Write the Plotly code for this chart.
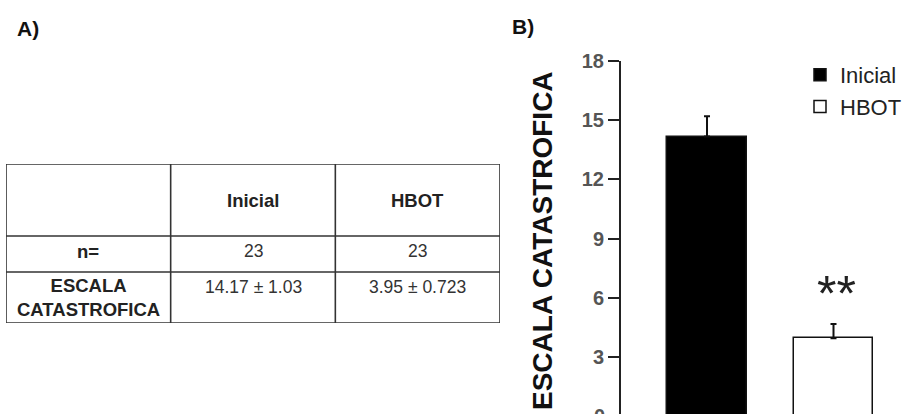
import plotly.graph_objects as go

# Summary values
groups = ["Inicial", "HBOT"]
n_values = [23, 23]
means = [14.17, 3.95]
sems = [1.03, 0.723]
bar_colors = ["#000000", "#ffffff"]
y_ticks = [3, 6, 9, 12, 15, 18]
row_labels = ["n=", "ESCALA<br>CATASTROFICA"]

W, H = 918, 414
FONT = "Liberation Sans, Arial, sans-serif"
GRID = "#333333"

# Y axis: 18 sits 61 px below the top, zero sits just under the bottom edge
Y_TOP_PX, Y_ZERO_PX = 61, 416.2
Y_MAX = 18
PX_PER_UNIT = (Y_ZERO_PX - Y_TOP_PX) / Y_MAX
Y_MIN = (Y_ZERO_PX - H) / PX_PER_UNIT

fig = go.Figure()

# Panel B: bar chart with upward error bars
for g, m, s, c in zip(groups, means, sems, bar_colors):
    fig.add_trace(go.Bar(
        x=[g], y=[m], name=g,
        width=0.63,
        marker=dict(color=c, line=dict(color="#111111", width=1.5)),
        error_y=dict(type="data", symmetric=False, array=[s], arrayminus=[0],
                     color="#111111", thickness=2, width=3),
        xaxis="x", yaxis="y",
    ))

# Panel A: summary table laid out on its own hidden axes
# (columns are one unit wide; rows use edge offsets measured down from the top)
col_edges = [0, 1, 2, 3]
row_edges = [0, 72, 108, 159]
text_offset = 15  # distance from a row's top edge to the text centre

shapes = []
for xe in col_edges:
    shapes.append(dict(type="line", xref="x2", yref="y2", x0=xe, x1=xe,
                       y0=row_edges[0], y1=row_edges[-1],
                       line=dict(color=GRID, width=1.6)))
for ye in row_edges:
    shapes.append(dict(type="line", xref="x2", yref="y2", x0=col_edges[0],
                       x1=col_edges[-1], y0=ye, y1=ye,
                       line=dict(color=GRID, width=1.6)))

annotations = []


def cell_text(col, y, text, bold=False, color="#333333", size=17.5):
    annotations.append(dict(
        x=col + 0.5, y=y, xref="x2", yref="y2", xanchor="center", yanchor="middle",
        text=f"<b>{text}</b>" if bold else text, showarrow=False, align="center",
        font=dict(family=FONT, size=size, color=color)))


# Header row
for i, g in enumerate(groups):
    cell_text(i + 1, (row_edges[0] + row_edges[1]) / 2, g, bold=True,
              color="#222222", size=18.5)
# n= row
cell_text(0, row_edges[1] + text_offset, row_labels[0], bold=True,
          color="#222222", size=18.5)
for i, n in enumerate(n_values):
    cell_text(i + 1, row_edges[1] + text_offset, str(n))
# Mean ± SEM row
cell_text(0, row_edges[2] + 25, row_labels[1], bold=True, color="#222222", size=18.5)
for i, (m, s) in enumerate(zip(means, sems)):
    cell_text(i + 1, row_edges[2] + text_offset, f"{m:.2f} ± {s:g}")

# Zero tick label, mostly below the bottom edge (paper coords so it is not hidden)
annotations.append(dict(x=621 / W, xref="paper", xanchor="right", xshift=-14,
                        y=(H - Y_ZERO_PX) / H, yref="paper", yanchor="middle",
                        showarrow=False, text="0",
                        font=dict(family=FONT, size=20, color="#555555", weight="bold")))

# Y-axis title
annotations.append(dict(x=542 / W, y=1 - 241 / H, xref="paper", yref="paper",
                        xanchor="center", yanchor="middle",
                        text="<b>ESCALA CATASTROFICA</b>", textangle=-90, showarrow=False,
                        font=dict(family=FONT, size=28, color="#111111")))

# Significance marker above the HBOT bar
annotations.append(dict(x="HBOT", y=means[1] + sems[1], xref="x", yref="y",
                        yanchor="middle", yshift=30, xshift=3, text="**", showarrow=False,
                        font=dict(family=FONT, size=50, color="#222222")))

# Panel letters
annotations.append(dict(x=15 / W, y=1 - 29 / H, xref="paper", yref="paper",
                        xanchor="left", yanchor="middle",
                        text="<b>A)</b>", showarrow=False,
                        font=dict(family=FONT, size=21, color="#111111")))
annotations.append(dict(x=510 / W, y=1 - 26 / H, xref="paper", yref="paper",
                        xanchor="left", yanchor="middle",
                        text="<b>B)</b>", showarrow=False,
                        font=dict(family=FONT, size=21, color="#111111")))

fig.update_layout(
    width=W, height=H,
    margin=dict(l=0, r=0, t=0, b=0, pad=0, autoexpand=False),
    paper_bgcolor="white", plot_bgcolor="white",
    font=dict(family=FONT),
    bargap=0,
    xaxis=dict(domain=[621 / W, 1.0], type="category", range=[-0.68, 1.668],
               visible=False, fixedrange=True),
    yaxis=dict(domain=[0, 1 - Y_TOP_PX / H], range=[Y_MIN, Y_MAX], automargin=False,
               tickvals=y_ticks, showgrid=False, zeroline=False,
               showline=True, linecolor="#222222", linewidth=2,
               ticks="outside", ticklen=11, tickwidth=2, tickcolor="#222222",
               tickfont=dict(family=FONT, size=20, color="#555555", weight="bold"),
               fixedrange=True),
    xaxis2=dict(domain=[6 / W, 500 / W], range=[col_edges[0], col_edges[-1]],
                anchor="y2", visible=False, fixedrange=True),
    yaxis2=dict(domain=[1 - 323 / H, 1 - 164 / H], range=[row_edges[-1], row_edges[0]],
                anchor="x2", visible=False, fixedrange=True),
    legend=dict(x=800 / W, y=1 - 54 / H, xanchor="left", yanchor="top",
                bgcolor="rgba(0,0,0,0)",
                font=dict(family=FONT, size=22, color="#222222"),
                tracegroupgap=0),
    showlegend=True,
    shapes=shapes,
    annotations=annotations,
)

fig.write_html("out.html")
